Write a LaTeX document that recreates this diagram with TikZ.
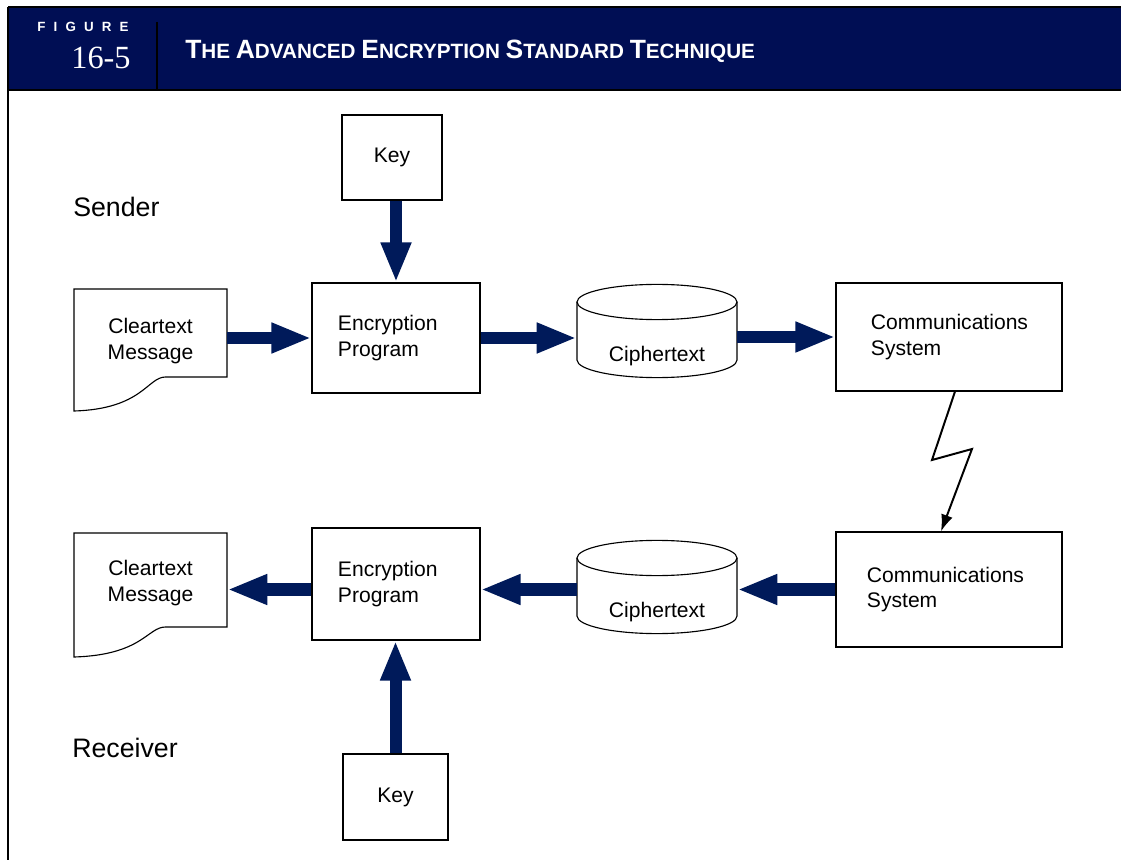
\documentclass[tikz,border=0pt]{standalone}
\usepackage{fontspec}
\setmainfont{Liberation Sans}
\newfontfamily\numfont{Liberation Serif}
\definecolor{aesnavy}{RGB}{0,14,84}
\definecolor{aesarrow}{RGB}{0,26,90}
\usetikzlibrary{arrows.meta,positioning}

\newcommand{\capl}[1]{{\fontsize{18.8}{20}\selectfont #1}}

\begin{document}
\begin{tikzpicture}[x=0.025cm, y=-0.025cm,
  every node/.style={font=\fontsize{15}{18}\selectfont},
  keybox/.style={draw, line width=0.8pt, minimum width=2.5cm, minimum height=2.125cm},
  progbox/.style={draw, line width=0.8pt, minimum width=4.2cm, minimum height=2.75cm,
    text width=2.9cm, align=left},
  commbox/.style={draw, line width=0.8pt, minimum width=5.65cm, minimum height=2.7cm,
    text width=3.9cm, align=left},
  msgtext/.style={minimum width=3.825cm, align=center, inner sep=0pt},
  ciphertext/.style={minimum width=4cm, inner sep=0pt},
  docline/.style={line width=0.8pt},
  fatarrow/.style={-{Triangle[length=1cm, width=0.7cm]}, aesarrow, line width=0.3cm},
  boltarrow/.style={-{Latex[length=0.42cm, width=0.3cm]}, line width=1.4pt}]

\useasboundingbox (0,0) rectangle (1121,860);

% Header band
\fill[aesnavy] (8,7) rectangle (1121,90);
\draw[line width=2pt] (8,7) -- (1121,7);
\draw[line width=2pt] (8,90) -- (1121,90);
\draw[line width=2pt] (8,7) -- (8,860);
\draw[line width=1.6pt] (157,22) -- (157,90);

\node[white, font=\bfseries\fontsize{9.5}{10}\selectfont] (figword) at (83,27)
  {F\kern5.8pt I\kern5.8pt G\kern5.8pt U\kern5.8pt R\kern5.8pt E};
\node[white, font=\numfont\fontsize{23}{24}\selectfont] (fignum) at (101,58) {16-5};
\node[white, anchor=west, inner sep=0pt, font=\bfseries\fontsize{14.7}{16}\selectfont]
  (title) at (185,51)
  {\capl{T}HE \capl{A}DVANCED \capl{E}NCRYPTION \capl{S}TANDARD \capl{T}ECHNIQUE};

% Sender side
\node[anchor=west, inner sep=0pt, font=\fontsize{19}{22}\selectfont] (sender) at (73,207) {Sender};

\node[keybox] (key1) at (392,157.5) {Key};
\node[progbox] (enc1) at (396,338) {Encryption\\Program};
\node[msgtext] (msg1) at (150.5,341) {Cleartext\\Message};
\node[ciphertext] (ct1) at (657,356) {Ciphertext};
\node[commbox] (comm1) at (949,337) {Communications\\System};

\draw[docline, shift={(msg1.center)}] (-76.5,-52) -- (76.5,-52) -- (76.5,36) -- (15,36)
  .. controls (-3,36) and (-8,68) .. (-76.5,70) -- cycle;
\draw[docline, shift={(ct1.center)}] (0,-54) ellipse [x radius=2cm, y radius=0.44cm];
\draw[docline, shift={(ct1.center)}] (-80,-54) -- (-80,4)
  arc[start angle=180, end angle=360, x radius=2cm, y radius=0.44cm] -- (80,-54);

\draw[fatarrow] (key1.south -| enc1.north) -- (enc1.north);
\draw[fatarrow] (enc1.west -| msg1.east) -- (enc1.west);
\draw[fatarrow] (enc1.east) -- (enc1.east -| ct1.west);
\draw[fatarrow] (comm1.west -| ct1.east) -- (comm1.west);

% Receiver side
\node[anchor=west, inner sep=0pt, font=\fontsize{19}{22}\selectfont] (receiver) at (72,748) {Receiver};

\node[keybox, minimum width=2.625cm, minimum height=2.15cm] (key2) at (395.5,797) {Key};
\node[progbox, minimum height=2.8cm] (enc2) at (396,584) {Encryption\\Program};
\node[msgtext] (msg2) at (150.5,583) {Cleartext\\Message};
\node[ciphertext] (ct2) at (657,612) {Ciphertext};
\node[commbox, minimum height=2.875cm, text width=4.1cm] (comm2) at (949,589.5) {Communications\\System};

\draw[docline, shift={(msg2.center)}] (-76.5,-50) -- (76.5,-50) -- (76.5,44) -- (15,44)
  .. controls (-3,44) and (-8,72) .. (-76.5,74) -- cycle;
\draw[docline, shift={(ct2.center)}] (0,-54) ellipse [x radius=2cm, y radius=0.44cm];
\draw[docline, shift={(ct2.center)}] (-80,-54) -- (-80,4)
  arc[start angle=180, end angle=360, x radius=2cm, y radius=0.44cm] -- (80,-54);

\draw[boltarrow] ([xshift=0.15cm]comm1.south) -- (932,460) -- (972,449)
  -- ([xshift=-0.2cm]comm2.north);

\draw[fatarrow] (comm2.west) -- (comm2.west -| ct2.east);
\draw[fatarrow] (ct2.west |- comm2.west) -- (enc2.east |- comm2.west);
\draw[fatarrow] (enc2.west |- comm2.west) -- (msg2.east |- comm2.west);
\draw[fatarrow] (key2.north) -- (key2.north |- enc2.south);

\end{tikzpicture}
\end{document}
